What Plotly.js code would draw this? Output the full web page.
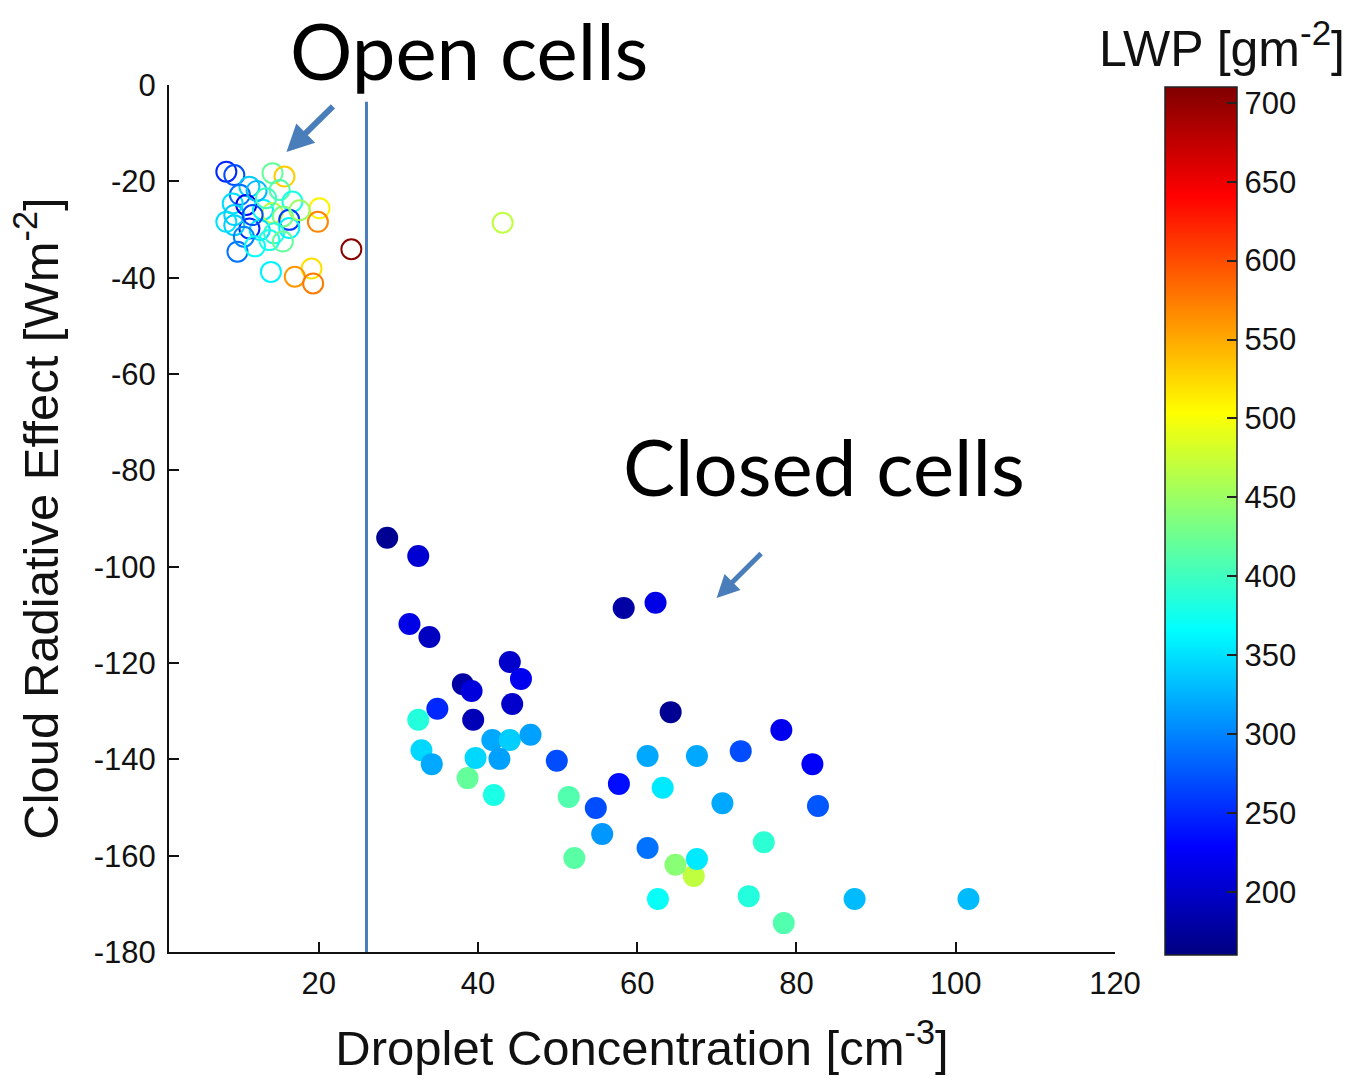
<!DOCTYPE html>
<html>
<head>
<meta charset="utf-8">
<script src="https://cdn.plot.ly/plotly-3.0.1.min.js"></script>
<style>html,body{margin:0;padding:0;background:#fff;}#chart{width:1356px;height:1081px;}</style>
</head>
<body>
<div id="chart"></div>
<script>
// ---- Open cells (hollow circles) ----
const openDroplet = [8.4, 9.4, 14.2, 15.7, 11.3, 10.1, 15.1, 16.7, 9.2, 10.9, 20.1, 13.0, 14.2, 19.9, 16.3, 11.3, 9.4, 15.5, 12.6, 14.4, 16.3, 8.4, 9.4, 11.7, 24.1, 9.8, 13.8, 15.5, 14.0, 19.1, 17.0, 19.3, 43.1, 12.2, 13.4, 10.6, 17.6, 12.0];
const openCRE     = [-18.0, -18.7, -18.3, -19.0, -21.1, -22.8, -21.8, -24.2, -24.6, -24.9, -25.6, -25.9, -26.6, -28.4, -28.0, -29.8, -29.1, -27.3, -30.1, -30.8, -29.7, -28.4, -27.0, -27.0, -34.1, -34.6, -32.2, -32.5, -38.8, -38.1, -39.8, -41.2, -28.6, -22.0, -23.5, -31.5, -26.0, -33.5];
const openLWP     = [250, 270, 420, 530, 340, 290, 410, 380, 350, 220, 510, 360, 470, 570, 260, 250, 340, 430, 350, 390, 360, 350, 340, 270, 705, 290, 380, 420, 360, 520, 560, 575, 470, 330, 400, 300, 450, 370];

// ---- Closed cells (filled circles) ----
const closedDroplet = [28.6, 32.5, 31.4, 33.9, 38.1, 39.2, 44.0, 45.4, 34.9, 39.4, 44.3, 32.5, 32.9, 34.2, 38.7, 39.7, 41.8, 44.0, 46.6, 42.7, 49.9, 42.0, 51.4, 58.3, 62.3, 64.2, 61.3, 67.5, 73.0, 78.1, 82.0, 82.7, 57.7, 63.2, 54.8, 70.7, 55.6, 75.9, 61.3, 52.1, 67.1, 64.8, 67.5, 62.6, 74.0, 78.4, 87.3, 101.6];
const closedCRE     = [-94.0, -97.8, -111.9, -114.6, -124.4, -125.8, -119.8, -123.3, -129.5, -131.8, -128.5, -131.8, -138.1, -141.0, -143.9, -139.7, -136.0, -136.0, -134.9, -139.9, -140.3, -147.4, -147.8, -108.6, -107.5, -130.2, -139.3, -139.3, -138.3, -133.9, -141.0, -149.7, -145.1, -145.9, -150.1, -149.1, -155.5, -157.2, -158.4, -160.5, -164.2, -161.9, -160.7, -169.0, -168.4, -174.0, -169.0, -169.0];
const closedLWP     = [170, 205, 215, 195, 180, 210, 200, 220, 250, 190, 200, 385, 345, 320, 420, 345, 320, 340, 315, 315, 270, 380, 410, 180, 215, 170, 320, 320, 270, 220, 225, 275, 235, 355, 270, 320, 310, 390, 290, 415, 470, 440, 355, 370, 385, 410, 330, 330];

// ---- Axis ticks ----
const xTickVals = [20, 40, 60, 80, 100, 120];
const xTickText = ['20', '40', '60', '80', '100', '120'];
const yTickVals = [0, -20, -40, -60, -80, -100, -120, -140, -160, -180];
const yTickText = ['0', '-20', '-40', '-60', '-80', '-100', '-120', '-140', '-160', '-180'];
const cbTickVals = [200, 250, 300, 350, 400, 450, 500, 550, 600, 650, 700];

// regime separator
const separatorX = 26;
const separatorTop = -3.5;

const jet = [
  [0, 'rgb(0,0,128)'],
  [0.125, 'rgb(0,0,255)'],
  [0.375, 'rgb(0,255,255)'],
  [0.625, 'rgb(255,255,0)'],
  [0.875, 'rgb(255,0,0)'],
  [1, 'rgb(128,0,0)']
];

const tickFont = {family: 'Liberation Sans, Arial, sans-serif', size: 31, color: '#111'};
const titleFont = {family: 'Liberation Sans, Arial, sans-serif', size: 49, color: '#111'};
const calloutFont = {family: 'Lato, Carlito, Calibri, sans-serif', size: 78, color: '#000'};
const arrowColor = '#4a7ebb';

const traces = [
  {
    type: 'scatter', mode: 'markers', name: 'Open cells',
    x: openDroplet, y: openCRE,
    marker: {symbol: 'circle-open', size: 20, color: openLWP, coloraxis: 'coloraxis', line: {width: 2}},
    hoverinfo: 'x+y'
  },
  {
    type: 'scatter', mode: 'markers', name: 'Closed cells',
    x: closedDroplet, y: closedCRE,
    marker: {symbol: 'circle', size: 22, color: closedLWP, coloraxis: 'coloraxis', line: {width: 0}},
    hoverinfo: 'x+y'
  }
];

const layout = {
  width: 1356, height: 1081,
  margin: {l: 169, r: 241, t: 85, b: 129, pad: 0, autoexpand: false},
  paper_bgcolor: '#fff', plot_bgcolor: '#fff',
  showlegend: false,
  xaxis: {
    range: [1.2, 120], tickvals: xTickVals, ticktext: xTickText,
    ticks: 'inside', ticklen: 10, tickwidth: 2, tickcolor: '#111',
    showline: true, linecolor: '#111', linewidth: 2, mirror: false,
    showgrid: false, zeroline: false, automargin: false,
    tickfont: tickFont, ticklabelstandoff: 3,
    title: {text: 'Droplet Concentration [cm<sup>-3</sup>]', font: titleFont, standoff: 30}
  },
  yaxis: {
    range: [-180, 0], tickvals: yTickVals, ticktext: yTickText,
    ticks: 'inside', ticklen: 10, tickwidth: 2, tickcolor: '#111',
    showline: true, linecolor: '#111', linewidth: 2, mirror: false,
    showgrid: false, zeroline: false, automargin: false,
    tickfont: tickFont, ticklabelstandoff: 5,
    title: {text: 'Cloud Radiative Effect [Wm<sup>-2</sup>]', font: titleFont, standoff: 20}
  },
  coloraxis: {
    colorscale: jet, cmin: 160, cmax: 710,
    colorbar: {
      x: 1.0529, xanchor: 'left', xref: 'paper', xpad: 0,
      y: 0.9977, yanchor: 'top', yref: 'paper', ypad: 0,
      len: 868, lenmode: 'pixels', thickness: 72, thicknessmode: 'pixels',
      outlinewidth: 1.5, outlinecolor: '#222',
      tickvals: cbTickVals, ticks: 'inside', ticklen: 10, tickwidth: 2, tickcolor: '#222',
      tickfont: {family: 'Liberation Sans, Arial, sans-serif', size: 31, color: '#111'},
      ticklabelposition: 'outside'
    }
  },
  shapes: [
    {type: 'line', xref: 'x', yref: 'y', x0: separatorX, x1: separatorX, y0: separatorTop, y1: -180,
     line: {color: arrowColor, width: 3}}
  ],
  annotations: [
    {text: 'LWP [gm<sup>-2</sup>]', xref: 'paper', yref: 'paper', x: 1.113, y: 1.046, xanchor: 'center', yanchor: 'middle',
     showarrow: false, font: {family: 'Liberation Sans, Arial, sans-serif', size: 50, color: '#111'}},
    {text: 'Open cells', xref: 'paper', yref: 'paper', x: 0.3166, y: 1.04, xanchor: 'center', yanchor: 'middle',
     showarrow: false, font: calloutFont},
    {text: 'Closed cells', xref: 'paper', yref: 'paper', x: 0.6924, y: 0.56, xanchor: 'center', yanchor: 'middle',
     showarrow: false, font: calloutFont},
    {text: '', xref: 'x', yref: 'y', x: 15.95, y: -13.9, ax: 48, ay: -47, axref: 'pixel', ayref: 'pixel',
     showarrow: true, arrowhead: 2, arrowsize: 0.9, arrowwidth: 6, arrowcolor: arrowColor},
    {text: '', xref: 'x', yref: 'y', x: 69.97, y: -106.5, ax: 46, ay: -46, axref: 'pixel', ayref: 'pixel',
     showarrow: true, arrowhead: 2, arrowsize: 0.9, arrowwidth: 5, arrowcolor: arrowColor}
  ]
};

Plotly.newPlot('chart', traces, layout, {displayModeBar: false, staticPlot: true});
</script>
</body>
</html>
